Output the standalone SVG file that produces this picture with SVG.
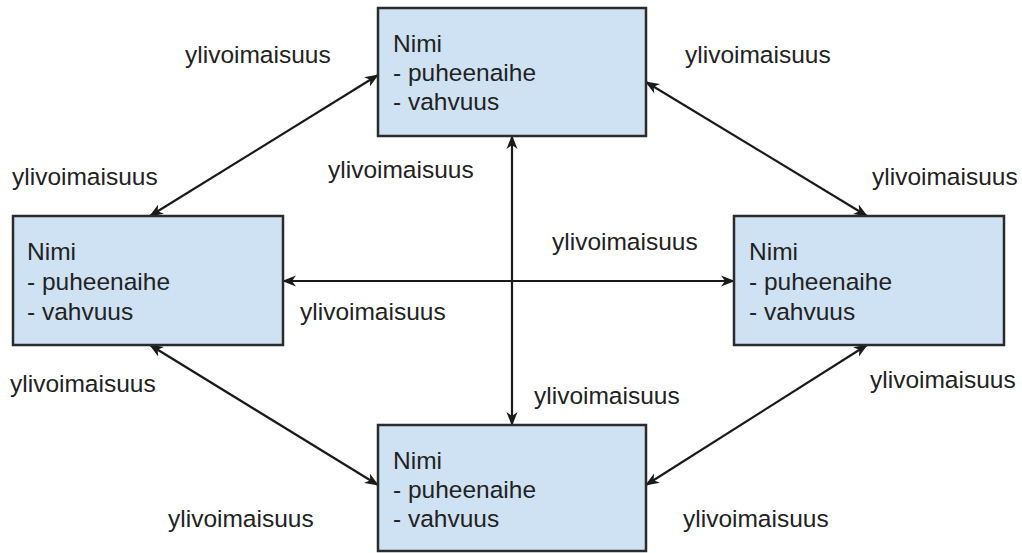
<svg xmlns="http://www.w3.org/2000/svg" width="1022" height="553" viewBox="0 0 1022 553">
<style>
.box{fill:#cfe2f3;stroke:#2b2b2b;stroke-width:2.5}
.t{font-family:"Liberation Sans",Arial,sans-serif;font-size:24.5px;fill:#222}
.c{stroke:#1a1a1a;stroke-width:2.2;fill:none;marker-start:url(#ah);marker-end:url(#ah)}
</style>
<defs>
<marker id="ah" markerUnits="userSpaceOnUse" viewBox="0 0 14 12" refX="13" refY="6" markerWidth="14" markerHeight="12" orient="auto-start-reverse">
<path d="M0,0.5 L14,6 L0,11.5 L4,6 Z" fill="#1a1a1a"/>
</marker>
</defs>
<rect width="1022" height="553" fill="#fff"/>
<g id="connectors">
<line class="c" x1="150" y1="216" x2="378" y2="75"/>
<line class="c" x1="646" y1="82" x2="867" y2="216"/>
<line class="c" x1="150" y1="345" x2="378" y2="485"/>
<line class="c" x1="646" y1="485" x2="867" y2="345"/>
<line class="c" x1="283" y1="281" x2="734" y2="281"/>
<line class="c" x1="512" y1="136" x2="512" y2="425"/>
</g>
<g id="node-top">
<rect class="box" x="378" y="8" width="268" height="128"/>
<text class="t" x="393" y="52">Nimi</text>
<text class="t" x="393" y="81">- puheenaihe</text>
<text class="t" x="393" y="110">- vahvuus</text>
</g>
<g id="node-left">
<rect class="box" x="13" y="216" width="270" height="129"/>
<text class="t" x="27" y="260">Nimi</text>
<text class="t" x="27" y="290">- puheenaihe</text>
<text class="t" x="27" y="320">- vahvuus</text>
</g>
<g id="node-right">
<rect class="box" x="734" y="216" width="270" height="129"/>
<text class="t" x="749" y="260">Nimi</text>
<text class="t" x="749" y="290">- puheenaihe</text>
<text class="t" x="749" y="320">- vahvuus</text>
</g>
<g id="node-bottom">
<rect class="box" x="378" y="425" width="268" height="126"/>
<text class="t" x="393" y="469">Nimi</text>
<text class="t" x="393" y="498">- puheenaihe</text>
<text class="t" x="393" y="527">- vahvuus</text>
</g>
<g id="labels">
<text class="t" x="185" y="63">ylivoimaisuus</text>
<text class="t" x="12" y="185">ylivoimaisuus</text>
<text class="t" x="328" y="178">ylivoimaisuus</text>
<text class="t" x="685" y="63">ylivoimaisuus</text>
<text class="t" x="872" y="185">ylivoimaisuus</text>
<text class="t" x="552" y="250">ylivoimaisuus</text>
<text class="t" x="300" y="320">ylivoimaisuus</text>
<text class="t" x="10" y="392">ylivoimaisuus</text>
<text class="t" x="534" y="404">ylivoimaisuus</text>
<text class="t" x="870" y="388">ylivoimaisuus</text>
<text class="t" x="168" y="527">ylivoimaisuus</text>
<text class="t" x="683" y="527">ylivoimaisuus</text>
</g>
</svg>
